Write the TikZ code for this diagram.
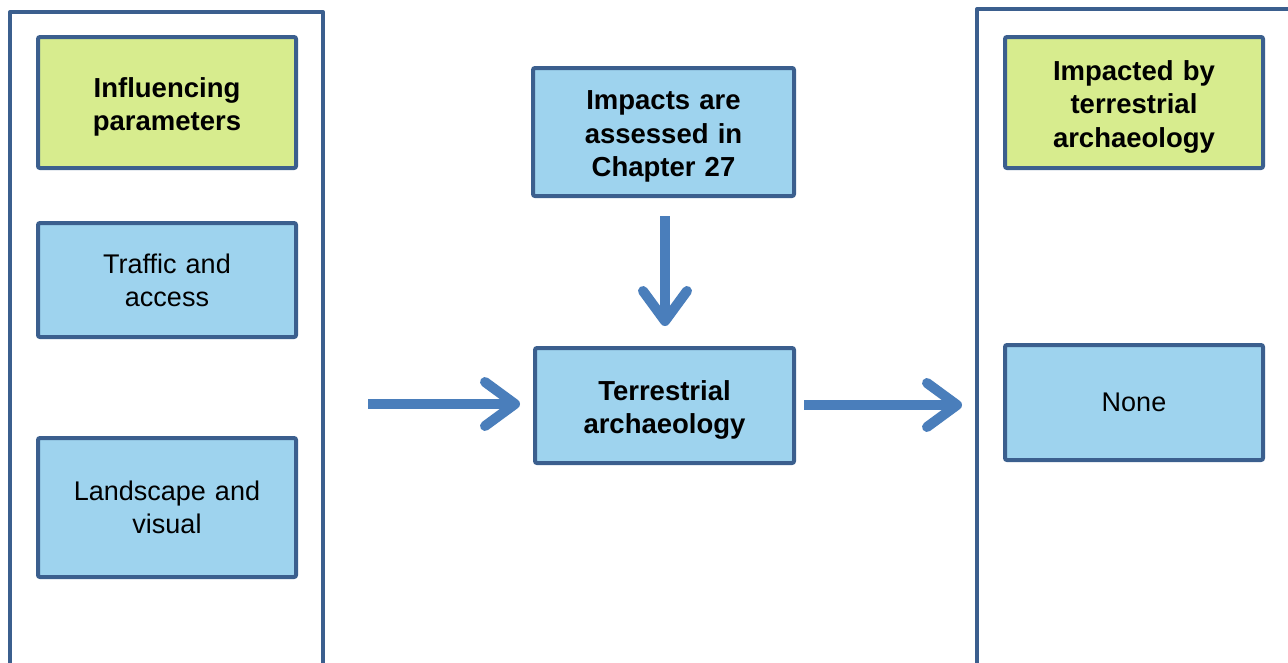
\documentclass[tikz,border=0pt]{standalone}
\usepackage{fontspec}
\setmainfont{Liberation Sans}
\usetikzlibrary{arrows.meta}
\definecolor{frame}{HTML}{3B5F8E}
\definecolor{boxblue}{HTML}{9ED3EE}
\definecolor{boxgreen}{HTML}{D7EC8E}
\definecolor{flow}{HTML}{4A7EBB}
% strut that lowers a bold first line a little inside its box
\newcommand{\headstrut}{\rule{0pt}{28.5pt}}
\tikzset{
  panel/.style={draw=frame, line width=4pt, line join=round},
  card/.style={draw=frame, line width=4pt, rounded corners=2pt, inner sep=0pt,
    align=center, text width=240pt, font=\fontsize{27}{33}\selectfont},
  boldtext/.style={font=\fontsize{27.5}{33.5}\selectfont\bfseries},
  bluecard/.style={card, fill=boxblue},
  greencard/.style={card, fill=boxgreen, boldtext},
  flowarrow/.style={draw=flow, line width=10pt,
    -{Straight Barb[length=30pt, width=44pt, round]}}
}
\begin{document}
\begin{tikzpicture}[x=1pt, y=-1pt]
\useasboundingbox (0,0) rectangle (1288,662);
\clip (0,0) rectangle (1288,662);

% outer panels, open at the page edge
\draw[panel] (10,680) -- (10,12) -- (323,12) -- (323,680);
\draw[panel] (977,680) -- (977,9) -- (1300,9);

% left column
\node[greencard, minimum width=258pt, minimum height=131pt] (infl) at (167,102.5) {\headstrut Influencing\\parameters};
\node[bluecard, minimum width=258pt, minimum height=114pt] (traffic) at (167,280) {Traffic and\\access};
\node[bluecard, minimum width=258pt, minimum height=139pt] (land) at (167,507.5) {Landscape and\\visual};

% centre column
\node[bluecard, boldtext, minimum width=261pt, minimum height=128pt] (chap) at (663.5,132) {\headstrut Impacts are\\assessed in\\Chapter 27};
\node[bluecard, boldtext, minimum width=259pt, minimum height=115pt] (terr) at (664.5,405.5) {\headstrut Terrestrial\\archaeology};

% right column
\node[greencard, minimum width=258pt, minimum height=131pt] (impd) at (1134,102.5) {\headstrut Impacted by\\terrestrial\\archaeology};
\node[bluecard, minimum width=258pt, minimum height=115pt] (none) at (1134,402.5) {None};

% flow arrows
\coordinate (in) at (368,404);
\coordinate (outr) at (962,405);
\draw[flowarrow, shorten >=13pt] (in) -- (terr.west |- in);
\draw[flowarrow, shorten <=18pt, shorten >=20pt] (chap.south -| 665,0) -- (terr.north -| 665,0);
\draw[flowarrow, shorten <=8pt] (terr.east |- outr) -- (outr);
\end{tikzpicture}
\end{document}
